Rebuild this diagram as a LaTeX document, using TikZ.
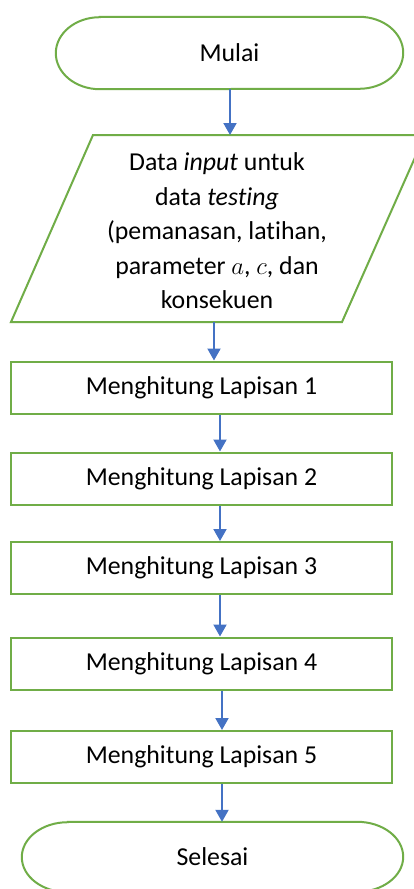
\documentclass[tikz,border=0pt]{standalone}
\usepackage{fontspec}
\setmainfont[Ligatures=NoCommon]{Carlito}
\usetikzlibrary{arrows.meta}
\definecolor{flowgreen}{HTML}{70AD47}
\definecolor{flowblue}{HTML}{4472C4}
\begin{document}
\begin{tikzpicture}[x=1pt,y=-1pt,
  txt/.style={font=\fontsize{25.8}{34.5}\selectfont, text=black, inner sep=0pt, align=center},
  procbox/.style={draw=flowgreen, line width=2pt, fill=white, minimum width=381pt, minimum height=52pt, inner sep=0pt, font=\fontsize{25.8}{30}\selectfont},
  termbox/.style={inner sep=0pt, font=\fontsize{25.8}{30}\selectfont},
  termline/.style={draw=flowgreen, line width=2pt, fill=white},
  conn/.style={draw=flowblue, line width=2pt, -{Triangle[width=13pt,length=12pt]}}
]
\useasboundingbox (0,0) rectangle (414,889);
\fill[white] (0,0) rectangle (414,889);

% Start terminal
\node[termbox, minimum width=347pt, minimum height=72pt] (start) at (229.5,53) {};
\path[termline] ([xshift=44pt]start.north west) -- ([xshift=-44pt]start.north east)
  arc[start angle=90, end angle=-90, x radius=44pt, y radius=36pt]
  -- ([xshift=44pt]start.south west)
  arc[start angle=270, end angle=90, x radius=44pt, y radius=36pt] -- cycle;
\node[termbox] at (start.center) {Mulai};

% Input parallelogram
\coordinate (pTL) at (93,135);
\coordinate (pTR) at (425,135);
\coordinate (pBR) at (342,322);
\coordinate (pBL) at (11,322);
\draw[flowgreen, line width=2pt, fill=white] (pTL) -- (pTR) -- (pBR) -- (pBL) -- cycle;
\node[txt] (inp) at (217,231) {Data \textit{input} untuk\\data \textit{testing}\\(pemanasan, latihan,\\parameter $a$, $c$, dan\\konsekuen};
\coordinate (inTop) at (230,135);
\coordinate (inBot) at (214,322);

% Process boxes
\node[procbox] (b1) at (201.5,387.5) {Menghitung Lapisan 1};
\node[procbox] (b2) at (201.5,478.5) {Menghitung Lapisan 2};
\node[procbox] (b3) at (201.5,568) {Menghitung Lapisan 3};
\node[procbox] (b4) at (201.5,663.5) {Menghitung Lapisan 4};
\node[procbox] (b5) at (201.5,757) {Menghitung Lapisan 5};

% End terminal
\node[termbox, minimum width=381pt, minimum height=70pt] (stop) at (212.5,857) {};
\path[termline] ([xshift=46pt]stop.north west) -- ([xshift=-46pt]stop.north east)
  arc[start angle=90, end angle=-90, x radius=46pt, y radius=35pt]
  -- ([xshift=46pt]stop.south west)
  arc[start angle=270, end angle=90, x radius=46pt, y radius=35pt] -- cycle;
\node[termbox] at (stop.center) {Selesai};

% Connectors
\draw[conn] (start.south -| inTop) -- (inTop);
\draw[conn] (inBot) -- (inBot |- b1.north);
\draw[conn] ([xshift=18.5pt]b1.south) -- ([xshift=18.5pt]b2.north);
\draw[conn] ([xshift=18.5pt]b2.south) -- ([xshift=18.5pt]b3.north);
\draw[conn] ([xshift=18.5pt]b3.south) -- ([xshift=18.5pt]b4.north);
\draw[conn] ([xshift=20.5pt]b4.south) -- ([xshift=20.5pt]b5.north);
\draw[conn] ([xshift=20.5pt]b5.south) -- ([xshift=20.5pt]b5.south |- stop.north);
\end{tikzpicture}
\end{document}
